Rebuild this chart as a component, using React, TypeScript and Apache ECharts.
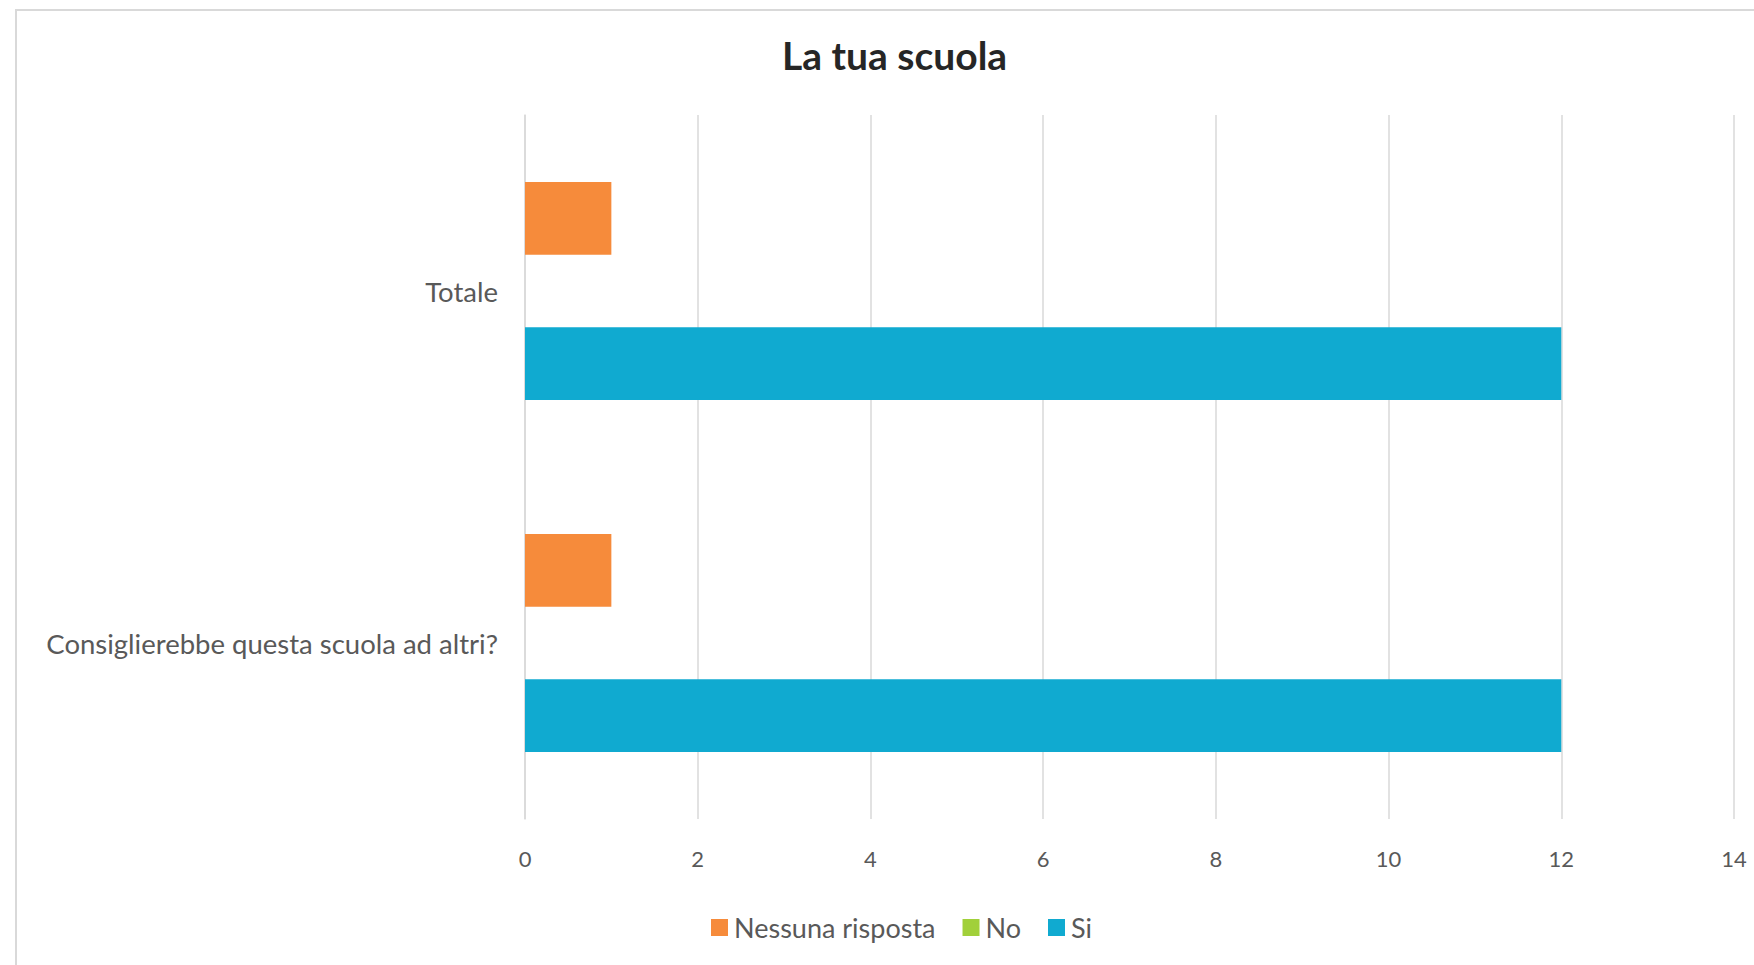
import React, { useEffect, useRef } from "react";
import * as echarts from "echarts";

const categories = ["Consiglierebbe questa scuola ad altri?", "Totale"];
const seriesNames = ["Nessuna risposta", "No", "Si"];
const nessunaRisposta = [1, 1];
const noValues = [0, 0];
const siValues = [12, 12];
const colors = ["#f68b3b", "#a1d03a", "#10aad0"];
const FONT = "Lato, 'Open Sans', sans-serif";

export default function App() {
  const ref = useRef<HTMLDivElement>(null);
  useEffect(() => {
    if (!ref.current) return;
    const chart = echarts.init(ref.current, null, { renderer: "svg" });
    const values = [nessunaRisposta, noValues, siValues];
    chart.setOption({
      animation: false,
      backgroundColor: "#ffffff",
      textStyle: { fontFamily: FONT },
      title: {
        text: "La tua scuola",
        left: 782,
        top: 35,
        padding: 0,
        textStyle: { fontFamily: FONT, fontSize: 39, fontWeight: "bold", color: "#262626" },
      },
      legend: {
        data: seriesNames,
        left: 711,
        top: 914,
        padding: 0,
        icon: "rect",
        itemWidth: 17,
        itemHeight: 17,
        itemGap: 27,
        textStyle: { fontFamily: FONT, fontSize: 27, color: "#595959", padding: [0, 0, 0, 1] },
      },
      graphic: [
        {
          type: "rect",
          shape: { x: 16, y: 10, width: 1800, height: 1000 },
          style: { fill: "none", stroke: "#d9d9d9", lineWidth: 2 },
          silent: true,
          z: -1,
        },
      ],
      grid: { left: 525, right: 20, top: 115, bottom: 146 },
      xAxis: {
        type: "value",
        min: 0,
        max: 14,
        interval: 2,
        axisLine: { show: false },
        axisTick: { show: false },
        splitLine: { show: true, lineStyle: { color: "#d9d9d9", width: 1.5 } },
        axisLabel: { fontFamily: FONT, fontSize: 22, color: "#595959", margin: 28 },
      },
      yAxis: {
        type: "category",
        data: categories,
        axisLine: { show: true, lineStyle: { color: "#d9d9d9", width: 1.5 } },
        axisTick: { show: false },
        axisLabel: { fontFamily: FONT, fontSize: 27.5, color: "#595959", margin: 27 },
      },
      series: seriesNames.map((name, i) => ({
        name,
        type: "bar",
        data: values[i],
        barGap: "0%",
        barCategoryGap: "38%",
        itemStyle: { color: colors[i] },
      })),
    });
    return () => chart.dispose();
  }, []);
  return <div ref={ref} style={{ position: "fixed", left: 0, top: 0, width: 1754, height: 965 }} />;
}
